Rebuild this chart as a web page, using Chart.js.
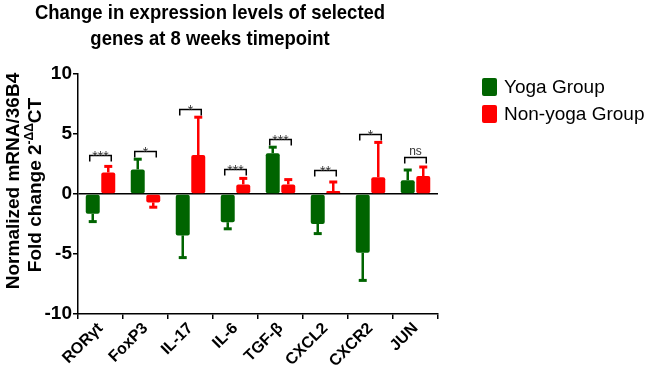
<!DOCTYPE html>
<html>
<head>
<meta charset="utf-8">
<script src="https://cdn.jsdelivr.net/npm/chart.js@4.4.1/dist/chart.umd.min.js"></script>
<style>
  html, body { margin: 0; padding: 0; background: #fff; }
  #wrap { width: 645px; height: 372px; }
</style>
</head>
<body>
<div id="wrap"><canvas id="chart"></canvas></div>
<script>
const genes = ["RORγt", "FoxP3", "IL-17", "IL-6", "TGF-β", "CXCL2", "CXCR2", "JUN"];
const yogaMean = [-1.65, 2.05, -3.45, -2.35, 3.4, -2.5, -4.9, 1.15];
const yogaErr = [0.65, 0.85, 1.85, 0.55, 0.5, 0.8, 2.3, 0.85];
const nonYogaMean = [1.8, -0.7, 3.25, 0.8, 0.8, 0.25, 1.4, 1.5];
const nonYogaErr = [0.5, 0.4, 3.15, 0.5, 0.4, 0.75, 2.9, 0.75];
const sigLabels = ["***", "*", "*", "***", "***", "**", "*", "ns"];
const sigLevel = [3.25, 3.6, 7.1, 2.1, 4.6, 2.0, 5.0, 3.1];
const yTicks = [10, 5, 0, -5, -10];

const green = "#006400", red = "#ff0000";
const sans = "'Liberation Sans', Arial, sans-serif";

// one-sided error bars, away from zero
const errorBars = {
  id: "errorBars",
  afterDatasetsDraw(chart) {
    const ctx = chart.ctx, y = chart.scales.y;
    chart.data.datasets.forEach((ds, di) => {
      const meta = chart.getDatasetMeta(di);
      meta.data.forEach((bar, i) => {
        const v = ds.data[i], e = ds.errors[i];
        const end = v >= 0 ? v + e : v - e;
        const y0 = y.getPixelForValue(v), y1 = y.getPixelForValue(end);
        ctx.save();
        ctx.strokeStyle = ds.backgroundColor;
        ctx.lineWidth = 2.5;
        ctx.beginPath();
        ctx.moveTo(bar.x, y0);
        ctx.lineTo(bar.x, y1);
        ctx.stroke();
        ctx.lineWidth = 3;
        ctx.beginPath();
        ctx.moveTo(bar.x - 4, y1);
        ctx.lineTo(bar.x + 4, y1);
        ctx.stroke();
        ctx.restore();
      });
    });
  }
};

// significance brackets, title, y title and legend
const extras = {
  id: "extras",
  afterDraw(chart) {
    const ctx = chart.ctx, y = chart.scales.y;
    const g = chart.getDatasetMeta(0).data, r = chart.getDatasetMeta(1).data;
    ctx.save();
    ctx.strokeStyle = "#000";
    ctx.lineWidth = 1.5;
    ctx.fillStyle = "#333";
    ctx.textAlign = "center";
    ctx.textBaseline = "alphabetic";
    sigLevel.forEach((lv, i) => {
      const yy = Math.round(y.getPixelForValue(lv)) + 0.5;
      const x0 = g[i].x - 3, x1 = r[i].x + 3;
      ctx.beginPath();
      ctx.moveTo(x0, yy + 6);
      ctx.lineTo(x0, yy);
      ctx.lineTo(x1, yy);
      ctx.lineTo(x1, yy + 6);
      ctx.stroke();
      const ns = sigLabels[i] === "ns";
      ctx.font = (ns ? "12px " : "14px ") + sans;
      ctx.fillText(sigLabels[i], (x0 + x1) / 2, ns ? yy - 3 : yy + 5);
    });

    // title (condensed bold)
    ctx.fillStyle = "#000";
    ctx.font = "bold 21px " + sans;
    ctx.textBaseline = "middle";
    ctx.save();
    ctx.translate(210, 0);
    ctx.scale(0.88, 1);
    ctx.fillText("Change in expression levels of selected", 0, 13);
    ctx.fillText("genes at 8 weeks timepoint", 0, 39);
    ctx.restore();

    // y axis title
    ctx.save();
    ctx.rotate(-Math.PI / 2);
    ctx.textBaseline = "middle";
    ctx.font = "bold 19px " + sans;
    ctx.textAlign = "center";
    ctx.fillText("Normalized mRNA/36B4", -181, 14);
    const a = "Fold change 2", sup = "-ΔΔ", b = "CT";
    const wa = ctx.measureText(a).width, wb = ctx.measureText(b).width;
    ctx.font = "bold 12px " + sans;
    const ws = ctx.measureText(sup).width;
    const x = -185 - (wa + ws + wb) / 2;
    ctx.textAlign = "left";
    ctx.font = "bold 19px " + sans;
    ctx.fillText(a, x, 36);
    ctx.font = "bold 12px " + sans;
    ctx.fillText(sup, x + wa, 30);
    ctx.font = "bold 19px " + sans;
    ctx.fillText(b, x + wa + ws, 36);
    ctx.restore();

    // legend
    ctx.font = "19px " + sans;
    ctx.textAlign = "left";
    ctx.textBaseline = "middle";
    chart.data.datasets.forEach((ds, i) => {
      const cy = 87 + i * 27;
      ctx.fillStyle = ds.backgroundColor;
      ctx.beginPath();
      ctx.roundRect(482, cy - 9, 15, 18, 2);
      ctx.fill();
      ctx.fillStyle = "#000";
      ctx.fillText(ds.label, 504, cy + 1);
    });
    ctx.restore();
  }
};

new Chart(document.getElementById("chart"), {
  type: "bar",
  data: {
    labels: genes,
    datasets: [
      { label: "Yoga Group", data: yogaMean, errors: yogaErr, backgroundColor: green, borderRadius: 2, borderSkipped: false },
      { label: "Non-yoga Group", data: nonYogaMean, errors: nonYogaErr, backgroundColor: red, borderRadius: 2, borderSkipped: false }
    ]
  },
  options: {
    responsive: true,
    maintainAspectRatio: false,
    animation: false,
    layout: { padding: { top: 74, right: 207, left: 0, bottom: 0 } },
    categoryPercentage: 0.69,
    barPercentage: 0.9,
    plugins: {
      legend: { display: false },
      tooltip: { enabled: false }
    },
    scales: {
      x: {
        grid: { drawOnChartArea: false, drawTicks: true, tickLength: 5, color: "#000", lineWidth: 1.5 },
        border: { color: "#000", width: 1.5 },
        ticks: {
          color: "#000",
          minRotation: 45,
          maxRotation: 45,
          padding: 0,
          font: { family: sans, size: 16, weight: "bold" }
        },
        afterFit(scale) { scale.height = 58; }
      },
      y: {
        min: -10,
        max: 10,
        afterBuildTicks(scale) { scale.ticks = yTicks.map(v => ({ value: v })); },
        grid: {
          color: c => (c.tick && c.tick.value === 0 ? "#000" : "transparent"),
          tickColor: "#000",
          lineWidth: 1.5,
          tickLength: 5
        },
        border: { color: "#000", width: 1.5 },
        ticks: {
          color: "#000",
          padding: 1,
          font: { family: sans, size: 19, weight: "bold" }
        },
        afterFit(scale) { scale.width = 78; }
      }
    }
  },
  plugins: [errorBars, extras]
});
</script>
</body>
</html>
